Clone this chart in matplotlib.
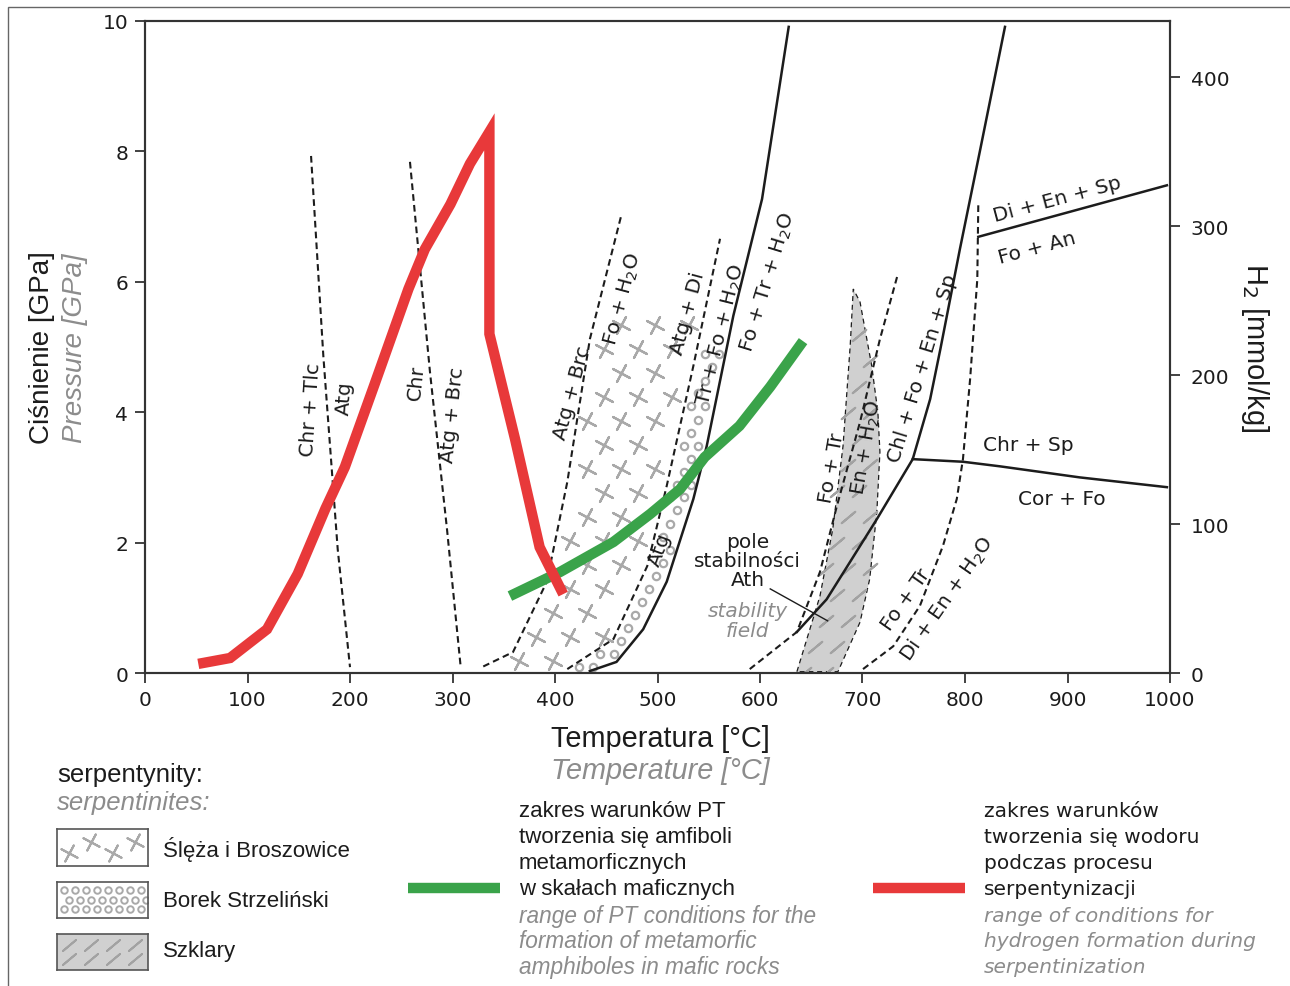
import numpy as np
import matplotlib
matplotlib.use("Agg")
import matplotlib.pyplot as plt
from matplotlib.path import Path
from matplotlib.patches import Rectangle, Polygon

# ---- data: temperature [°C], pressure [GPa] ----
h2_T = [52, 83, 119, 149, 176, 195, 224, 257, 273, 298, 317, 336, 336, 361, 385, 408]
h2_P = [0.14, 0.23, 0.67, 1.52, 2.52, 3.16, 4.43, 5.89, 6.5, 7.19, 7.81, 8.3, 5.2, 3.59, 1.93, 1.21]

amph_T = [356, 405, 457, 493, 522, 546, 580, 610, 642]
amph_P = [1.18, 1.55, 2.01, 2.44, 2.82, 3.31, 3.79, 4.39, 5.09]

# dashed reactions
chr_tlc_T = [162, 174, 188, 200]
chr_tlc_P = [7.93, 4.86, 1.9, 0.09]
chr_brc_T = [258.5, 278, 294.6, 308]
chr_brc_P = [7.84, 4.62, 2.21, 0.09]
brc_fo_T = [330, 359, 392, 412, 434, 465]
brc_fo_P = [0.1, 0.32, 1.40, 2.93, 5.12, 7.04]
atg_di_T = [412, 457, 490, 509, 535, 561]
atg_di_P = [0.06, 0.52, 1.64, 2.87, 4.71, 6.66]
fo_en_T = [590, 636, 658.5, 675, 697.6, 717, 734]
fo_en_P = [0.06, 0.63, 1.55, 2.56, 3.85, 5.12, 6.09]
di_en_T = [700.5, 730, 756, 778.5, 792, 798, 805, 812, 813]
di_en_P = [0.06, 0.41, 1.03, 1.95, 2.67, 3.28, 4.51, 6.04, 7.22]

# solid reactions
fo_tr_T = [434, 460, 486, 509, 535, 548, 574, 602, 628]
fo_tr_P = [0.03, 0.17, 0.67, 1.40, 2.67, 3.48, 5.48, 7.27, 9.91]
chl_T = [636, 665, 714, 749, 766, 776, 795, 815, 839]
chl_P = [0.63, 1.13, 2.36, 3.28, 4.2, 4.97, 6.5, 8.04, 9.91]
chr_sp_T = [749, 798, 834, 912, 997]
chr_sp_P = [3.28, 3.24, 3.17, 3.0, 2.85]
di_sp_T = [813, 997]
di_sp_P = [6.69, 7.48]

# Szklary field outline
szk_T = [636, 658.5, 671, 681, 688, 691, 697.6, 709, 715, 717, 714, 707, 697.6, 676]
szk_P = [0.02, 1.18, 2.21, 3.48, 5.02, 5.89, 5.69, 4.71, 4.0, 3.39, 2.47, 1.44, 0.78, 0.02]

x_ticks = [0, 100, 200, 300, 400, 500, 600, 700, 800, 900, 1000]
y_ticks = [0, 2, 4, 6, 8, 10]
h2_ticks = [0, 100, 200, 300, 400]
h2_top = 437.6

BLACK = "#1c1c1c"
GRAY = "#8c8c8c"
PAT = "#a9a9a9"
RED = "#e8393a"
GREEN = "#3aa34a"
COND = ["Liberation Sans", "DejaVu Sans"]
VERD = ["DejaVu Sans"]

W, H = 1290, 987
def fx(x):
    return x / W
def fy(y):
    return 1 - y / H

fig = plt.figure(figsize=(12.9, 9.87), dpi=100)
ax = fig.add_axes([fx(145), fy(674), fx(1170) - fx(145), fy(22) - fy(674)])
ax.set_xlim(0, 1000)
ax.set_ylim(0, 10)
pxT = 1000 / 1025.0
pxP = 10 / 652.0

# ---- patterned fields ----
def band_points(lT, lP, rT, rP, ptop, sx, sy, margin):
    pts = []
    for i, p in enumerate(np.arange(sy * pxP * 0.5, ptop, sy * pxP)):
        lo = np.interp(p, lP, lT) + margin * pxT
        hi = np.interp(p, rP, rT) - margin * pxT
        off = (i % 2) * sx * pxT / 2
        for t in np.arange(off, 1000, sx * pxT):
            if lo < t < hi:
                pts.append((t, p))
    return np.array(pts)

cross = band_points(brc_fo_T, brc_fo_P, atg_di_T, atg_di_P, 5.4, 34, 24, 9)
ax.scatter(cross[:, 0], cross[:, 1], marker=(4, 2, -28), s=190, c=PAT, linewidths=1.6, zorder=1)

dots = band_points(atg_di_T, atg_di_P, fo_tr_T, fo_tr_P, 5.0, 14, 13, 6)
ax.scatter(dots[:, 0], dots[:, 1], marker="o", s=28, facecolors="white", edgecolors=PAT,
           linewidths=1.6, zorder=1)

szk = np.column_stack([szk_T, szk_P])
ax.add_patch(Polygon(szk, closed=True, facecolor="#d0d0d0", edgecolor=BLACK, lw=0.9,
                     linestyle=(0, (4, 3)), zorder=1))
gx, gy = np.meshgrid(np.arange(600, 760, 22 * pxT), np.arange(0, 7, 26 * pxP))
gx = gx + (np.arange(gx.shape[0])[:, None] % 2) * 11 * pxT
grid = np.column_stack([gx.ravel(), gy.ravel()])
inside = Path(szk).contains_points(grid, radius=-0.15)
sl = grid[inside]
ax.scatter(sl[:, 0], sl[:, 1], marker=(2, 2, -50), s=160, c="#a2a2a2", linewidths=1.5, zorder=1.5)

# ---- reaction lines ----
dash = dict(color=BLACK, lw=1.5, linestyle=(0, (3.2, 2)), zorder=2)
for T, P in [(chr_tlc_T, chr_tlc_P), (chr_brc_T, chr_brc_P), (brc_fo_T, brc_fo_P),
             (atg_di_T, atg_di_P), (fo_en_T, fo_en_P), (di_en_T, di_en_P)]:
    ax.plot(T, P, **dash)
for T, P in [(fo_tr_T, fo_tr_P), (chl_T, chl_P), (chr_sp_T, chr_sp_P), (di_sp_T, di_sp_P)]:
    ax.plot(T, P, color=BLACK, lw=1.8, zorder=3)

ax.plot(amph_T, amph_P, color=GREEN, lw=7.5, solid_capstyle="butt", solid_joinstyle="miter", zorder=4)
ax.plot(h2_T, h2_P, color=RED, lw=7.5, solid_capstyle="butt", solid_joinstyle="miter", zorder=5)

# annotation leader for Ath field
ax.plot([610, 666], [1.29, 0.80], color=BLACK, lw=1.0, zorder=3)

# ---- reaction labels ----
labels = [
    ("Chr + Tlc", 162, 4.05, 86), ("Atg", 195, 4.23, 86),
    ("Chr", 265, 4.46, 84), ("Atg + Brc", 300.5, 3.97, 84),
    ("Atg + Brc", 416.6, 4.31, 75), ("Fo + H$_2$O", 466, 5.75, 75),
    ("Atg + Di", 530, 5.52, 75), ("Tr + Fo + H$_2$O", 562, 5.2, 76),
    ("Fo + Tr + H$_2$O", 608, 6.01, 73), ("Atg", 502, 1.9, 70),
    ("Fo + Tr", 670, 3.16, 80), ("En + H$_2$O", 704, 3.47, 80),
    ("Chl + Fo + En + Sp", 759, 4.69, 73),
    ("Di + En + Sp", 890, 7.27, 15), ("Fo + An", 870, 6.53, 15),
    ("Chr + Sp", 861.5, 3.5, 0), ("Cor + Fo", 894.6, 2.67, 0),
    ("Fo + Tr", 742.4, 1.13, 55), ("Di + En + H$_2$O", 782.5, 1.15, 55),
]
for s, t, p, r in labels:
    ax.text(t, p, s, rotation=r, rotation_mode="anchor", ha="center", va="center",
            fontsize=14.5, family=VERD, color=BLACK, zorder=6)

ax.text(588, 1.73, "pole\nstabilności\nAth", ha="center", va="center", fontsize=14.5,
        family=VERD, color=BLACK, linespacing=1.0, zorder=6)
ax.text(588, 0.81, "stability\nfield", ha="center", va="center", fontsize=14.5,
        family=VERD, color=GRAY, style="italic", linespacing=1.05, zorder=6)

# ---- axes styling ----
for sp in ax.spines.values():
    sp.set_color("#333333")
    sp.set_linewidth(1.5)
ax.set_xticks(x_ticks)
ax.set_yticks(y_ticks)
ax.tick_params(direction="out", length=7, width=1.3, color="#333333", labelsize=14.5,
               labelcolor=BLACK, pad=5)
for lab in ax.get_xticklabels() + ax.get_yticklabels():
    lab.set_family(VERD)

ax2 = ax.twinx()
ax2.set_ylim(0, h2_top)
ax2.set_yticks(h2_ticks)
ax2.tick_params(direction="out", length=7, width=1.3, color="#333333", labelsize=14.5,
                labelcolor=BLACK, pad=8)
for lab in ax2.get_yticklabels():
    lab.set_family(VERD)
for sp in ax2.spines.values():
    sp.set_color("#333333")
    sp.set_linewidth(1.5)

# axis titles
fig.text(fx(42), fy(348), "Ciśnienie [GPa]", rotation=90, ha="center", va="center",
         fontsize=20, family=COND, color=BLACK)
fig.text(fx(75), fy(348), "Pressure [GPa]", rotation=90, ha="center", va="center",
         fontsize=20, family=COND, color=GRAY, style="italic")
fig.text(fx(660), fy(739), "Temperatura [°C]", ha="center", va="center",
         fontsize=20.8, family=COND, color=BLACK)
fig.text(fx(660), fy(771), "Temperature [°C]", ha="center", va="center",
         fontsize=20.8, family=COND, color=GRAY, style="italic")
fig.text(fx(1255), fy(348), "H$_2$ [mmol/kg]", rotation=270, ha="center", va="center",
         fontsize=21, family=COND, color=BLACK)

# ---- legend ----
fig.text(fx(57), fy(775), "serpentynity:", ha="left", va="center", fontsize=18.5, family=COND, color=BLACK)
fig.text(fx(57), fy(803), "serpentinites:", ha="left", va="center", fontsize=18.5, family=COND,
         color=GRAY, style="italic")

def legend_box(top, bottom):
    b = fig.add_axes([fx(57), fy(bottom), fx(148) - fx(57), fy(top) - fy(bottom)])
    b.set_xlim(0, 91)
    b.set_ylim(37, 0)
    b.set_xticks([])
    b.set_yticks([])
    for sp in b.spines.values():
        sp.set_color("#555555")
        sp.set_linewidth(1.2)
    return b

b1 = legend_box(830, 867)
b1.scatter([12, 34, 56, 78], [24, 13, 24, 13], marker=(4, 2, -28), s=170, c=PAT, linewidths=1.5)
b2 = legend_box(883, 919)
bx, by = np.meshgrid(np.arange(7, 91, 11), [8, 18, 28])
bx = bx + np.array([[0], [5], [0]])
b2.scatter(bx.ravel(), by.ravel(), marker="o", s=22, facecolors="white", edgecolors=PAT, linewidths=1.4)
b3 = legend_box(935, 971)
b3.set_facecolor("#d0d0d0")
sx, sy = np.meshgrid([12, 34, 56, 78], [11, 26])
b3.scatter(sx.ravel(), sy.ravel(), marker=(2, 2, -50), s=150, c="#a2a2a2", linewidths=1.4)

fig.text(fx(163), fy(850), "Ślęża i Broszowice", ha="left", va="center", fontsize=16, family=COND, color=BLACK)
fig.text(fx(163), fy(902), "Borek Strzeliński", ha="left", va="center", fontsize=16, family=COND, color=BLACK)
fig.text(fx(163), fy(952), "Szklary", ha="left", va="center", fontsize=16, family=COND, color=BLACK)

fig.add_artist(plt.Line2D([fx(408), fx(500)], [fy(889), fy(889)], color=GREEN, lw=7.5,
                          solid_capstyle="butt"))
fig.add_artist(plt.Line2D([fx(873), fx(965)], [fy(889), fy(889)], color=RED, lw=7.5,
                          solid_capstyle="butt"))

mid_pl = ["zakres warunków PT", "tworzenia się amfiboli", "metamorficznych", "w skałach maficznych"]
mid_en = ["range of PT conditions for the", "formation of metamorfic", "amphiboles in mafic rocks"]
right_pl = ["zakres warunków", "tworzenia się wodoru", "podczas procesu", "serpentynizacji"]
right_en = ["range of conditions for", "hydrogen formation during", "serpentinization"]

for i, s in enumerate(mid_pl + mid_en):
    fig.text(fx(519), fy(812 + 26 * i), s, ha="left", va="center", fontsize=16 if i < 4 else 16.3,
             family=COND, color=BLACK if i < 4 else GRAY, style="normal" if i < 4 else "italic")
for i, s in enumerate(right_pl + right_en):
    fig.text(fx(984), fy(812 + 26 * i), s, ha="left", va="center", fontsize=14.5, family=VERD,
             color=BLACK if i < 4 else GRAY, style="normal" if i < 4 else "italic")

# outer frame
fig.add_artist(Rectangle((fx(8), -0.05), 1.2, fy(8) + 0.05, transform=fig.transFigure,
                         fill=False, edgecolor="#666666", lw=1.0))

fig.savefig("out.png", dpi=100)
